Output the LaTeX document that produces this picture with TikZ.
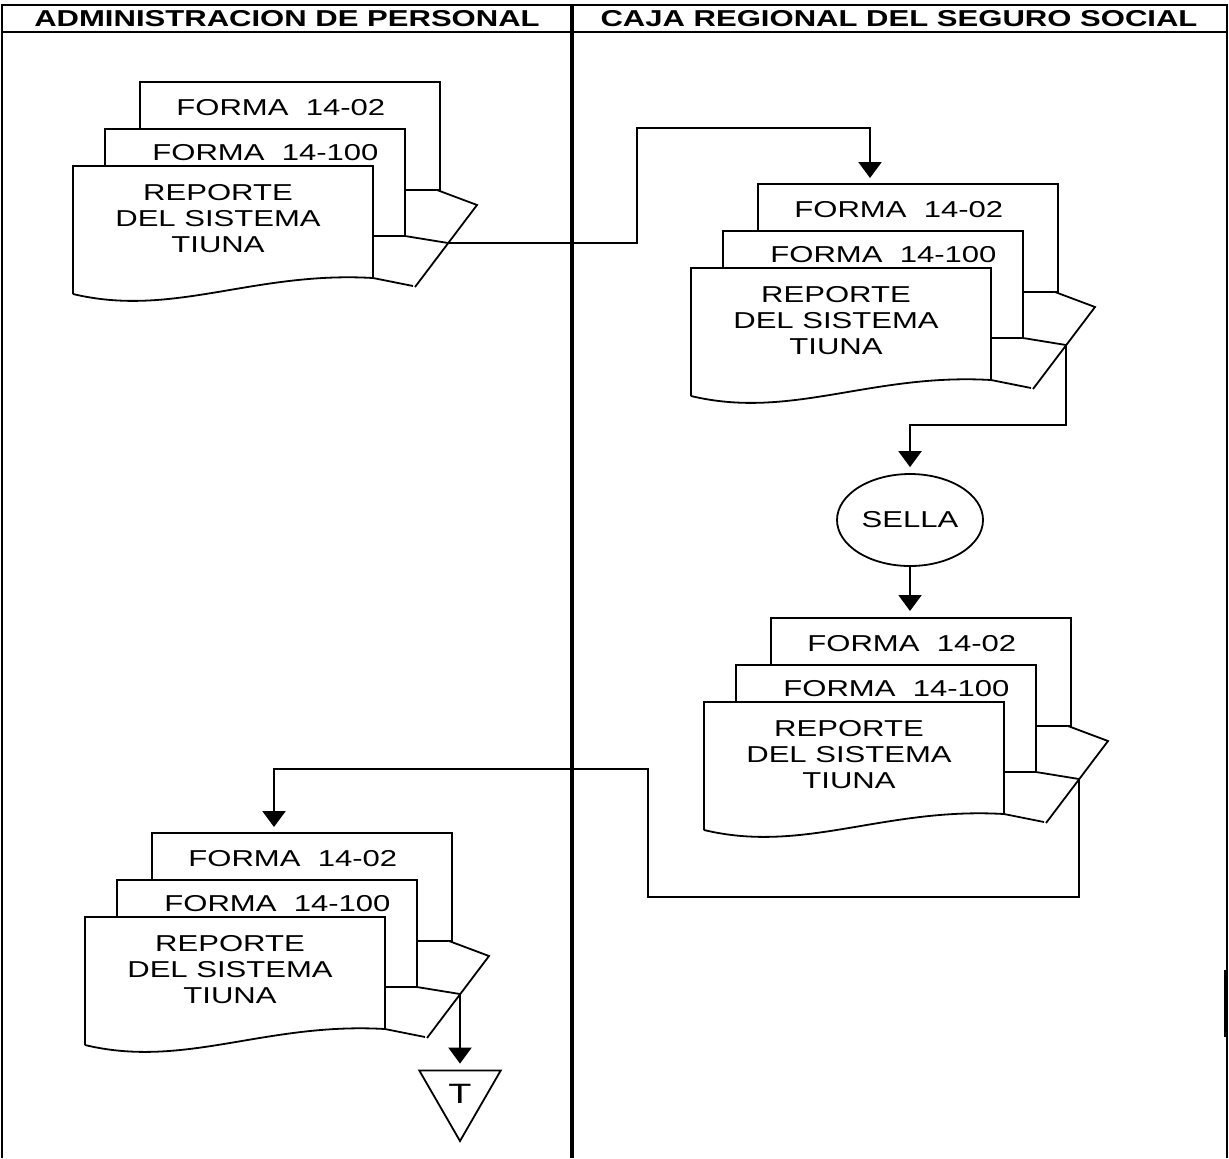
\documentclass[tikz,border=0pt]{standalone}
\usepackage{fontspec}
\setmainfont{Liberation Sans}[FakeStretch=1.35]
\usetikzlibrary{arrows.meta,shapes.geometric}

% three stacked sheets with the folded corner
\newcommand\pila[2]{%
\begin{scope}[shift={(#2)}]
\draw[hoja] (67,-84) rectangle (367,24);
\draw[hoja] (32,-37) rectangle (332,70);
\draw[hoja] (0,128) -- (0,0) -- (300,0) -- (300,112) .. controls (180,105) and (100,152) .. (0,128);
\draw[hoja] (364,24) -- (404,39) -- (342,121);
\draw[hoja] (332,70) -- (375,77);
\draw[hoja] (300,112) -- (340,120);
\coordinate (#1-out) at (375,77);
\node[txt,anchor=west] (#1-a) at (103,-58) {FORMA\ \ 14-02};
\node[txt,anchor=west] (#1-b) at (79,-13) {FORMA\ \ 14-100};
\node[txt,align=center] (#1-c) at (145,53) {REPORTE\\DEL SISTEMA\\TIUNA};
\end{scope}}

\begin{document}
\begin{tikzpicture}[x=0.5pt,y=-0.5pt,
  hoja/.style={draw,fill=white,line width=0.9pt},
  txt/.style={inner sep=0pt,font=\fontsize{11.5}{13}\selectfont},
  hdr/.style={inner sep=0pt,font=\fontsize{11.5}{13}\selectfont\bfseries},
  flecha/.style={-{Triangle[width=11.5pt,length=8pt]},line width=1.1pt,shorten >=3pt}]
\useasboundingbox (0,0) rectangle (1229,1158);
% frame and lanes
\draw[line width=1.2pt] (2,1158) |- (1227,5) -- (1227,1158);
\draw[line width=1.2pt] (2,32) -- (1227,32);
\draw[line width=1.6pt] (572,5) -- (572,1158);
\draw[line width=1.6pt] (1226,970) -- (1226,1037);
\node[hdr] (h1) at (287,19) {ADMINISTRACION DE PERSONAL};
\node[hdr] (h2) at (899,19) {CAJA REGIONAL DEL SEGURO SOCIAL};
% documents
\pila{s1}{73,166}
\pila{s2}{691,268}
\pila{s3}{704,702}
\pila{s4}{85,917}
\node[draw,ellipse,line width=0.9pt,minimum width=146pt/2,minimum height=92pt/2,
  txt] (sella) at (910,520) {SELLA};
\node[draw,regular polygon,regular polygon sides=3,shape border rotate=180,
  minimum size=47pt,line width=0.9pt,inner sep=0pt,
  font=\fontsize{14}{14}\selectfont] (fin) at (460,1094) {T};
% connectors
\coordinate (c1) at (637,128);
\coordinate (s2-in) at (870,184);
\coordinate (c2) at (910,425);
\coordinate (s3-in) at (910,617);
\coordinate (c3) at (648,897);
\coordinate (c4) at (274,769);
\coordinate (s4-in) at (274,833);
\draw[flecha] (s1-out) -| (c1) -| (s2-in);
\draw[flecha] (s2-out) |- (c2) -- (sella);
\draw[flecha] (sella) -- (s3-in);
\draw[flecha] (s3-out) |- (c3) |- (c4) -- (s4-in);
\draw[flecha] (s4-out) -- (fin);
\end{tikzpicture}
\end{document}
